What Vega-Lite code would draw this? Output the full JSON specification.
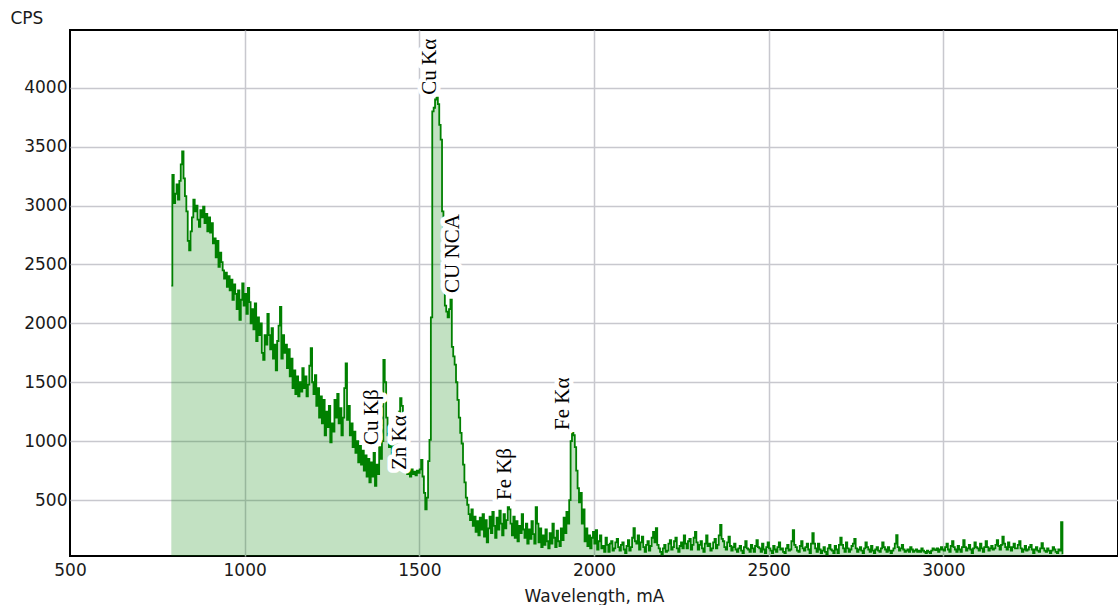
{
"$schema":"https://vega.github.io/schema/vega-lite/v6.json",
"width":1048,"height":526,
"autosize":{"type":"none"},
"padding":{"left":70,"top":30,"right":0,"bottom":49},
"background":"white",
"config":{"view":{"stroke":"#000","strokeWidth":2},"axis":{"labelFont":"DejaVu Sans","labelFontSize":17,"labelColor":"#1a1a1a","titleFont":"DejaVu Sans","titleFontSize":17,"titleFontWeight":"normal","titleColor":"#1a1a1a","gridColor":"#c8c8ce","gridWidth":1.5,"ticks":false,"domain":false,"labelFlush":false,"labelOverlap":false,"labelBound":false,"format":"d"}},
"datasets":{
"spectrum":[
{"w":790,"c":2320},{"w":793,"c":3260},{"w":797,"c":3020},{"w":801,"c":3100},{"w":805,"c":3180},{"w":809,"c":3050},{"w":813,"c":3210},{"w":817,"c":3350},{"w":821,"c":3460},{"w":825,"c":3230},{"w":829,"c":3080},{"w":833,"c":2950},{"w":837,"c":2700},{"w":841,"c":2620},{"w":845,"c":2780},{"w":849,"c":2900},{"w":853,"c":3050},{"w":857,"c":2950},{"w":861,"c":3000},{"w":865,"c":2880},{"w":869,"c":2820},{"w":873,"c":2960},{"w":877,"c":2900},{"w":881,"c":2990},{"w":885,"c":2850},{"w":889,"c":2930},{"w":893,"c":2780},{"w":897,"c":2900},{"w":901,"c":2770},{"w":905,"c":2850},{"w":909,"c":2680},{"w":913,"c":2720},{"w":917,"c":2560},{"w":921,"c":2700},{"w":925,"c":2480},{"w":929,"c":2600},{"w":933,"c":2520},{"w":937,"c":2450},{"w":941,"c":2380},{"w":945,"c":2430},{"w":949,"c":2310},{"w":953,"c":2400},{"w":957,"c":2280},{"w":961,"c":2370},{"w":965,"c":2200},{"w":969,"c":2330},{"w":973,"c":2250},{"w":977,"c":2120},{"w":981,"c":2280},{"w":985,"c":2030},{"w":989,"c":2200},{"w":993,"c":2340},{"w":997,"c":2150},{"w":1001,"c":2250},{"w":1005,"c":2080},{"w":1009,"c":2300},{"w":1013,"c":2180},{"w":1017,"c":2000},{"w":1021,"c":2120},{"w":1025,"c":1950},{"w":1029,"c":2170},{"w":1033,"c":1850},{"w":1037,"c":2050},{"w":1041,"c":1900},{"w":1045,"c":2000},{"w":1049,"c":1750},{"w":1053,"c":1690},{"w":1057,"c":1900},{"w":1061,"c":1820},{"w":1065,"c":2080},{"w":1069,"c":1900},{"w":1073,"c":1780},{"w":1077,"c":1960},{"w":1081,"c":1700},{"w":1085,"c":1820},{"w":1089,"c":1600},{"w":1093,"c":1850},{"w":1097,"c":1980},{"w":1101,"c":2140},{"w":1105,"c":1700},{"w":1109,"c":1900},{"w":1113,"c":1750},{"w":1117,"c":1820},{"w":1121,"c":1620},{"w":1125,"c":1780},{"w":1129,"c":1550},{"w":1133,"c":1700},{"w":1137,"c":1450},{"w":1141,"c":1600},{"w":1145,"c":1400},{"w":1149,"c":1550},{"w":1153,"c":1380},{"w":1157,"c":1500},{"w":1161,"c":1420},{"w":1165,"c":1620},{"w":1169,"c":1450},{"w":1173,"c":1550},{"w":1177,"c":1380},{"w":1181,"c":1480},{"w":1185,"c":1640},{"w":1189,"c":1790},{"w":1193,"c":1500},{"w":1197,"c":1400},{"w":1201,"c":1560},{"w":1205,"c":1300},{"w":1209,"c":1450},{"w":1213,"c":1200},{"w":1217,"c":1380},{"w":1221,"c":1150},{"w":1225,"c":1350},{"w":1229,"c":1050},{"w":1233,"c":1250},{"w":1237,"c":1120},{"w":1241,"c":1300},{"w":1245,"c":990},{"w":1249,"c":1150},{"w":1253,"c":1080},{"w":1257,"c":1350},{"w":1261,"c":1200},{"w":1265,"c":1400},{"w":1269,"c":1150},{"w":1273,"c":1280},{"w":1277,"c":1050},{"w":1281,"c":1200},{"w":1285,"c":1450},{"w":1289,"c":1660},{"w":1293,"c":1180},{"w":1297,"c":1300},{"w":1301,"c":1050},{"w":1305,"c":1150},{"w":1309,"c":950},{"w":1313,"c":1080},{"w":1317,"c":900},{"w":1321,"c":1000},{"w":1325,"c":820},{"w":1329,"c":960},{"w":1333,"c":800},{"w":1337,"c":920},{"w":1341,"c":750},{"w":1345,"c":880},{"w":1349,"c":700},{"w":1353,"c":850},{"w":1357,"c":650},{"w":1361,"c":820},{"w":1365,"c":700},{"w":1369,"c":900},{"w":1373,"c":620},{"w":1377,"c":800},{"w":1381,"c":720},{"w":1385,"c":950},{"w":1389,"c":850},{"w":1393,"c":1000},{"w":1397,"c":1690},{"w":1401,"c":1500},{"w":1405,"c":1200},{"w":1409,"c":1050},{"w":1413,"c":950},{"w":1417,"c":1100},{"w":1421,"c":880},{"w":1425,"c":980},{"w":1429,"c":820},{"w":1433,"c":950},{"w":1437,"c":1100},{"w":1441,"c":1250},{"w":1445,"c":1365},{"w":1449,"c":1300},{"w":1453,"c":1050},{"w":1457,"c":900},{"w":1461,"c":780},{"w":1465,"c":720},{"w":1469,"c":750},{"w":1473,"c":700},{"w":1477,"c":760},{"w":1481,"c":720},{"w":1485,"c":740},{"w":1489,"c":710},{"w":1493,"c":750},{"w":1497,"c":730},{"w":1501,"c":760},{"w":1505,"c":840},{"w":1509,"c":700},{"w":1513,"c":560},{"w":1517,"c":420},{"w":1521,"c":520},{"w":1525,"c":830},{"w":1529,"c":1010},{"w":1533,"c":2050},{"w":1537,"c":3800},{"w":1541,"c":3830},{"w":1545,"c":3900},{"w":1549,"c":3915},{"w":1553,"c":3860},{"w":1557,"c":3685},{"w":1561,"c":3560},{"w":1565,"c":2950},{"w":1569,"c":2300},{"w":1573,"c":2150},{"w":1577,"c":2100},{"w":1581,"c":2050},{"w":1585,"c":2120},{"w":1589,"c":2200},{"w":1593,"c":1800},{"w":1597,"c":1720},{"w":1601,"c":1650},{"w":1605,"c":1500},{"w":1609,"c":1350},{"w":1613,"c":1200},{"w":1617,"c":1070},{"w":1621,"c":980},{"w":1625,"c":800},{"w":1629,"c":650},{"w":1633,"c":520},{"w":1637,"c":460},{"w":1641,"c":380},{"w":1645,"c":330},{"w":1649,"c":420},{"w":1653,"c":280},{"w":1657,"c":360},{"w":1661,"c":230},{"w":1665,"c":320},{"w":1669,"c":200},{"w":1673,"c":350},{"w":1677,"c":250},{"w":1681,"c":380},{"w":1685,"c":190},{"w":1689,"c":330},{"w":1693,"c":140},{"w":1697,"c":260},{"w":1701,"c":360},{"w":1705,"c":220},{"w":1709,"c":400},{"w":1713,"c":280},{"w":1717,"c":180},{"w":1721,"c":350},{"w":1725,"c":250},{"w":1729,"c":410},{"w":1733,"c":300},{"w":1737,"c":200},{"w":1741,"c":380},{"w":1745,"c":260},{"w":1749,"c":330},{"w":1753,"c":440},{"w":1757,"c":420},{"w":1761,"c":300},{"w":1765,"c":200},{"w":1769,"c":360},{"w":1773,"c":180},{"w":1777,"c":320},{"w":1781,"c":150},{"w":1785,"c":280},{"w":1789,"c":220},{"w":1793,"c":380},{"w":1797,"c":250},{"w":1801,"c":180},{"w":1805,"c":300},{"w":1809,"c":130},{"w":1813,"c":250},{"w":1817,"c":170},{"w":1821,"c":320},{"w":1825,"c":210},{"w":1829,"c":130},{"w":1833,"c":440},{"w":1837,"c":300},{"w":1841,"c":140},{"w":1845,"c":260},{"w":1849,"c":100},{"w":1853,"c":200},{"w":1857,"c":120},{"w":1861,"c":250},{"w":1865,"c":150},{"w":1869,"c":90},{"w":1873,"c":220},{"w":1877,"c":130},{"w":1881,"c":300},{"w":1885,"c":180},{"w":1889,"c":100},{"w":1893,"c":240},{"w":1897,"c":150},{"w":1901,"c":110},{"w":1905,"c":260},{"w":1909,"c":160},{"w":1913,"c":350},{"w":1917,"c":220},{"w":1921,"c":400},{"w":1925,"c":300},{"w":1929,"c":500},{"w":1933,"c":1000},{"w":1937,"c":1070},{"w":1941,"c":1050},{"w":1945,"c":950},{"w":1949,"c":750},{"w":1953,"c":600},{"w":1957,"c":480},{"w":1961,"c":560},{"w":1965,"c":300},{"w":1969,"c":420},{"w":1973,"c":150},{"w":1977,"c":260},{"w":1981,"c":110},{"w":1985,"c":200},{"w":1989,"c":90},{"w":1993,"c":180},{"w":1997,"c":230},{"w":2001,"c":130},{"w":2005,"c":245},
{"w":2009,"c":80},{"w":2013,"c":150},{"w":2017,"c":200},{"w":2021,"c":90},{"w":2025,"c":110},{"w":2029,"c":60},{"w":2033,"c":180},{"w":2037,"c":120},{"w":2041,"c":60},{"w":2045,"c":130},{"w":2049,"c":150},{"w":2053,"c":70},{"w":2057,"c":90},{"w":2061,"c":140},{"w":2065,"c":170},{"w":2069,"c":100},{"w":2073,"c":70},{"w":2077,"c":120},{"w":2081,"c":140},{"w":2085,"c":80},{"w":2089,"c":50},{"w":2093,"c":110},{"w":2097,"c":160},{"w":2101,"c":70},{"w":2105,"c":100},{"w":2109,"c":180},{"w":2113,"c":262},{"w":2117,"c":150},{"w":2121,"c":130},{"w":2125,"c":200},{"w":2129,"c":80},{"w":2133,"c":140},{"w":2137,"c":190},{"w":2141,"c":100},{"w":2145,"c":60},{"w":2149,"c":120},{"w":2153,"c":150},{"w":2157,"c":70},{"w":2161,"c":110},{"w":2165,"c":180},{"w":2169,"c":230},{"w":2173,"c":140},{"w":2177,"c":262},{"w":2181,"c":120},{"w":2185,"c":90},{"w":2189,"c":60},{"w":2193,"c":40},{"w":2197,"c":90},{"w":2201,"c":120},{"w":2205,"c":60},{"w":2209,"c":70},{"w":2213,"c":130},{"w":2217,"c":160},{"w":2221,"c":80},{"w":2225,"c":100},{"w":2229,"c":150},{"w":2233,"c":180},{"w":2237,"c":90},{"w":2241,"c":60},{"w":2245,"c":110},{"w":2249,"c":140},{"w":2253,"c":90},{"w":2257,"c":200},{"w":2261,"c":130},{"w":2265,"c":90},{"w":2269,"c":150},{"w":2273,"c":170},{"w":2277,"c":80},{"w":2281,"c":120},{"w":2285,"c":180},{"w":2289,"c":230},{"w":2293,"c":140},{"w":2297,"c":80},{"w":2301,"c":120},{"w":2305,"c":150},{"w":2309,"c":90},{"w":2313,"c":60},{"w":2317,"c":130},{"w":2321,"c":200},{"w":2325,"c":110},{"w":2329,"c":130},{"w":2333,"c":70},{"w":2337,"c":90},{"w":2341,"c":140},{"w":2345,"c":170},{"w":2349,"c":90},{"w":2353,"c":120},{"w":2357,"c":200},{"w":2361,"c":288},{"w":2365,"c":170},{"w":2369,"c":150},{"w":2373,"c":100},{"w":2377,"c":80},{"w":2381,"c":140},{"w":2385,"c":190},{"w":2389,"c":110},{"w":2393,"c":70},{"w":2397,"c":100},{"w":2401,"c":130},{"w":2405,"c":80},{"w":2409,"c":60},{"w":2413,"c":90},{"w":2417,"c":110},{"w":2421,"c":70},{"w":2425,"c":50},{"w":2429,"c":100},{"w":2433,"c":150},{"w":2437,"c":90},{"w":2441,"c":80},{"w":2445,"c":60},{"w":2449,"c":120},{"w":2453,"c":90},{"w":2457,"c":60},{"w":2461,"c":110},{"w":2465,"c":160},{"w":2469,"c":100},{"w":2473,"c":90},{"w":2477,"c":60},{"w":2481,"c":130},{"w":2485,"c":80},{"w":2489,"c":50},{"w":2493,"c":100},{"w":2497,"c":140},{"w":2501,"c":90},{"w":2505,"c":70},{"w":2509,"c":50},{"w":2513,"c":110},{"w":2517,"c":80},{"w":2521,"c":60},{"w":2525,"c":100},{"w":2529,"c":140},{"w":2533,"c":80},{"w":2537,"c":90},{"w":2541,"c":60},{"w":2545,"c":50},{"w":2549,"c":90},{"w":2553,"c":120},{"w":2557,"c":70},{"w":2561,"c":80},{"w":2565,"c":150},{"w":2569,"c":245},{"w":2573,"c":120},{"w":2577,"c":100},{"w":2581,"c":70},{"w":2585,"c":60},{"w":2589,"c":110},{"w":2593,"c":150},{"w":2597,"c":90},{"w":2601,"c":70},{"w":2605,"c":100},{"w":2609,"c":130},{"w":2613,"c":80},{"w":2617,"c":50},{"w":2621,"c":130},{"w":2625,"c":220},{"w":2629,"c":130},{"w":2633,"c":90},{"w":2637,"c":60},{"w":2641,"c":130},{"w":2645,"c":80},{"w":2649,"c":50},{"w":2653,"c":70},{"w":2657,"c":100},{"w":2661,"c":60},{"w":2665,"c":40},{"w":2669,"c":90},{"w":2673,"c":120},{"w":2677,"c":80},{"w":2681,"c":70},{"w":2685,"c":50},{"w":2689,"c":110},{"w":2693,"c":80},{"w":2697,"c":50},{"w":2701,"c":120},{"w":2705,"c":180},{"w":2709,"c":120},{"w":2713,"c":90},{"w":2717,"c":60},{"w":2721,"c":140},{"w":2725,"c":90},{"w":2729,"c":60},{"w":2733,"c":80},{"w":2737,"c":110},{"w":2741,"c":130},{"w":2745,"c":170},{"w":2749,"c":90},{"w":2753,"c":60},{"w":2757,"c":80},{"w":2761,"c":100},{"w":2765,"c":70},{"w":2769,"c":50},{"w":2773,"c":90},{"w":2777,"c":140},{"w":2781,"c":100},{"w":2785,"c":80},{"w":2789,"c":60},{"w":2793,"c":110},{"w":2797,"c":70},{"w":2801,"c":50},{"w":2805,"c":80},{"w":2809,"c":100},{"w":2813,"c":70},{"w":2817,"c":60},{"w":2821,"c":90},{"w":2825,"c":140},{"w":2829,"c":100},{"w":2833,"c":80},{"w":2837,"c":60},{"w":2841,"c":100},{"w":2845,"c":70},{"w":2849,"c":50},{"w":2853,"c":70},{"w":2857,"c":90},{"w":2861,"c":130},{"w":2865,"c":203},{"w":2869,"c":100},{"w":2873,"c":70},{"w":2877,"c":90},{"w":2881,"c":120},{"w":2885,"c":80},{"w":2889,"c":60},{"w":2893,"c":70},{"w":2897,"c":80},{"w":2901,"c":60},{"w":2905,"c":100},{"w":2909,"c":80},{"w":2913,"c":60},{"w":2917,"c":70},{"w":2921,"c":80},{"w":2925,"c":60},{"w":2929,"c":70},{"w":2933,"c":60},{"w":2937,"c":90},{"w":2941,"c":70},{"w":2945,"c":60},{"w":2949,"c":50},{"w":2953,"c":70},{"w":2957,"c":60},{"w":2961,"c":50},{"w":2965,"c":70},{"w":2969,"c":90},{"w":2973,"c":80},{"w":2977,"c":75},{"w":2981,"c":90},{"w":2985,"c":60},{"w":2989,"c":80},{"w":2993,"c":100},{"w":2997,"c":80},{"w":3001,"c":70},{"w":3005,"c":100},{"w":3009,"c":130},{"w":3013,"c":80},{"w":3017,"c":60},{"w":3021,"c":110},{"w":3025,"c":150},{"w":3029,"c":100},{"w":3033,"c":80},{"w":3037,"c":60},{"w":3041,"c":110},{"w":3045,"c":80},{"w":3049,"c":60},{"w":3053,"c":100},{"w":3057,"c":160},{"w":3061,"c":100},{"w":3065,"c":70},{"w":3069,"c":90},{"w":3073,"c":120},{"w":3077,"c":80},{"w":3081,"c":50},{"w":3085,"c":90},{"w":3089,"c":140},{"w":3093,"c":100},{"w":3097,"c":90},{"w":3101,"c":70},{"w":3105,"c":130},{"w":3109,"c":90},{"w":3113,"c":60},{"w":3117,"c":100},{"w":3121,"c":150},{"w":3125,"c":100},{"w":3129,"c":70},{"w":3133,"c":90},{"w":3137,"c":110},{"w":3141,"c":80},{"w":3145,"c":90},{"w":3149,"c":120},{"w":3153,"c":160},{"w":3157,"c":110},{"w":3161,"c":80},{"w":3165,"c":120},{"w":3169,"c":190},{"w":3173,"c":130},{"w":3177,"c":100},{"w":3181,"c":80},{"w":3185,"c":140},{"w":3189,"c":100},{"w":3193,"c":70},{"w":3197,"c":100},{"w":3201,"c":130},{"w":3205,"c":90},{"w":3209,"c":90},{"w":3213,"c":120},{"w":3217,"c":150},{"w":3221,"c":90},{"w":3225,"c":60},{"w":3229,"c":80},{"w":3233,"c":110},{"w":3237,"c":70},{"w":3241,"c":80},{"w":3245,"c":100},{"w":3249,"c":120},{"w":3253,"c":80},{"w":3257,"c":50},{"w":3261,"c":80},{"w":3265,"c":100},{"w":3269,"c":70},{"w":3273,"c":60},{"w":3277,"c":90},{"w":3281,"c":135},{"w":3285,"c":90},{"w":3289,"c":70},{"w":3293,"c":60},{"w":3297,"c":90},{"w":3301,"c":70},{"w":3305,"c":50},{"w":3309,"c":70},{"w":3313,"c":100},{"w":3317,"c":80},{"w":3321,"c":60},{"w":3325,"c":50},{"w":3329,"c":80},{"w":3333,"c":70},{"w":3337,"c":313},{"w":3341,"c":40}
],
"peaks":[
{"w":1531,"c":3940,"label":"Cu Kα"},
{"w":1597,"c":2258,"label":"CU NCA"},
{"w":1365,"c":967,"label":"Cu Kβ"},
{"w":1445,"c":755,"label":"Zn Kα"},
{"w":1746,"c":500,"label":"Fe Kβ"},
{"w":1912,"c":1095,"label":"Fe Kα"}
]},
"layer":[
{"data":{"name":"spectrum"},
 "mark":{"type":"area","interpolate":"step-after","color":"#008000","opacity":0.24,"clip":true},
 "encoding":{
  "x":{"field":"w","type":"quantitative","scale":{"domain":[500,3500],"nice":false,"zero":false},
   "axis":{"values":[500,1000,1500,2000,2500,3000],"title":"Wavelength, mA","labelPadding":6,"titleBaseline":"alphabetic","titleY":45,
    "gridOpacity":{"condition":{"test":"datum.value === 500","value":0},"value":1}}},
  "y":{"field":"c","type":"quantitative","scale":{"domain":[25,4490],"nice":false,"zero":false},
   "axis":{"values":[500,1000,1500,2000,2500,3000,3500,4000],"title":"CPS","labelPadding":3,"titleAngle":0,"titleAlign":"left","titleBaseline":"alphabetic","titleX":-60,"titleY":-7}}}},
{"data":{"name":"spectrum"},
 "mark":{"type":"line","interpolate":"step-after","color":"#008000","strokeWidth":1.8,"clip":true},
 "encoding":{"x":{"field":"w","type":"quantitative"},"y":{"field":"c","type":"quantitative"}}},
{"data":{"name":"peaks"},
 "mark":{"type":"text","angle":270,"align":"left","baseline":"middle","font":"Liberation Serif","fontSize":21,"fill":"white","stroke":"white","strokeWidth":9,"strokeJoin":"round"},
 "encoding":{"x":{"field":"w","type":"quantitative"},"y":{"field":"c","type":"quantitative"},"text":{"field":"label"}}},
{"data":{"name":"peaks"},
 "mark":{"type":"text","angle":270,"align":"left","baseline":"middle","font":"Liberation Serif","fontSize":21,"color":"#000"},
 "encoding":{"x":{"field":"w","type":"quantitative"},"y":{"field":"c","type":"quantitative"},"text":{"field":"label"}}}
]
}
